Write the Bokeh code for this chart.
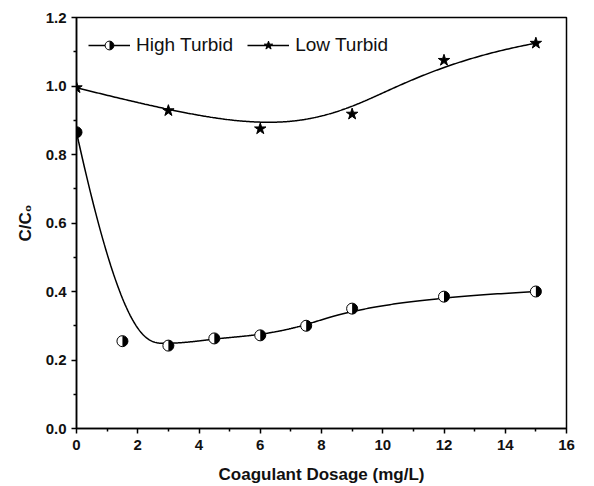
import numpy as np
from bokeh.plotting import figure
from bokeh.models import (Range1d, FixedTicker, PrintfTickFormatter,
                          Legend, LegendItem, CustomJS)
from bokeh.embed import file_html
from bokeh.resources import INLINE

# ---- data ----
high_x = [0, 1.5, 3, 4.5, 6, 7.5, 9, 12, 15]
high_y = [0.865, 0.255, 0.242, 0.263, 0.272, 0.300, 0.350, 0.385, 0.400]
low_x = [0, 3, 6, 9, 12, 15]
low_y = [0.995, 0.928, 0.875, 0.918, 1.075, 1.125]
x_ticks = [0, 2, 4, 6, 8, 10, 12, 14, 16]
x_minor = [1, 3, 5, 7, 9, 11, 13, 15]
y_ticks = [0.0, 0.2, 0.4, 0.6, 0.8, 1.0, 1.2]
y_minor = [0.1, 0.3, 0.5, 0.7, 0.9, 1.1]
x_label = "Coagulant Dosage (mg/L)"
y_label = "C/C\u2080"
names = ["High Turbid", "Low Turbid"]


def bspline(xs, ys, n=400, k=3):
    P = np.column_stack([xs, ys]).astype(float)
    m = len(P)
    knots = np.concatenate([[0.0] * k, np.linspace(0, 1, m - k + 1), [1.0] * k])
    t = np.linspace(0, 1, n)
    t[-1] = 1 - 1e-12
    N = np.zeros((n, len(knots) - 1))
    for j in range(len(knots) - 1):
        N[:, j] = (t >= knots[j]) & (t < knots[j + 1])
    for d in range(1, k + 1):
        Nn = np.zeros((n, len(knots) - 1 - d))
        for j in range(len(knots) - 1 - d):
            a = knots[j + d] - knots[j]
            b = knots[j + d + 1] - knots[j + 1]
            term = 0
            if a > 0:
                term = term + (t - knots[j]) / a * N[:, j]
            if b > 0:
                term = term + (knots[j + d + 1] - t) / b * N[:, j + 1]
            Nn[:, j] = term
        N = Nn
    C = N @ P
    return C[:, 0], C[:, 1]


hx, hy = bspline(high_x, high_y)
lx, ly = bspline(low_x, low_y)

p = figure(width=594, height=486, output_backend="svg", toolbar_location=None,
           x_range=Range1d(0, 16), y_range=Range1d(0, 1.2),
           min_border_left=76, min_border_right=28, min_border_top=17,
           min_border_bottom=58)
p.background_fill_color = "white"
p.border_fill_color = "white"
p.grid.visible = False
p.outline_line_color = "black"
p.outline_line_width = 1.5

half = CustomJS(code='''
export default (args, obj, {ctx, i, r, visuals}) => {
  ctx.beginPath()
  ctx.arc(0, 0, r, 0, 2*Math.PI, false)
  ctx.fillStyle = "white"
  ctx.fill()
  ctx.beginPath()
  ctx.moveTo(0, -r)
  ctx.arc(0, 0, r, -Math.PI/2, Math.PI/2, false)
  ctx.closePath()
  ctx.fillStyle = "black"
  ctx.fill()
  ctx.beginPath()
  ctx.arc(0, 0, r, 0, 2*Math.PI, false)
  ctx.strokeStyle = "black"
  ctx.lineWidth = 1
  ctx.stroke()
}
''')

lh = p.line(hx, hy, line_color="black", line_width=1.5)
sh = p.scatter(high_x, high_y, marker="@half", defs={"@half": half}, size=11,
               line_color="black", fill_color="white")
ll = p.line(lx, ly, line_color="black", line_width=1.5)
sl = p.scatter(low_x, low_y, marker="star", size=12, line_color="black",
               fill_color="black")

legend = Legend(items=[LegendItem(label=names[0], renderers=[lh, sh]),
                       LegendItem(label=names[1], renderers=[ll, sl])],
                orientation="horizontal", location=(12, 372),
                border_line_color=None, background_fill_alpha=0,
                padding=4, margin=0, spacing=14, glyph_width=42,
                glyph_height=22, label_standoff=6,
                label_text_font="Liberation Sans", label_text_font_size="19px",
                label_text_color="#111111")
p.add_layout(legend, "center")

for ax in (p.xaxis[0], p.yaxis[0]):
    ax.axis_line_width = 1.5
    ax.axis_line_color = "black"
    ax.major_tick_line_width = 1.5
    ax.minor_tick_line_width = 1.5
    ax.major_tick_in = 0
    ax.major_tick_out = 5
    ax.minor_tick_in = 0
    ax.minor_tick_out = 3
    ax.major_label_text_font = "Liberation Sans"
    ax.major_label_text_font_style = "bold"
    ax.major_label_text_font_size = "15px"
    ax.major_label_text_color = "#111111"
    ax.axis_label_text_font = "Liberation Sans"
    ax.axis_label_text_font_style = "bold"
    ax.axis_label_text_font_size = "17px"
    ax.axis_label_text_color = "#111111"

p.xaxis.ticker = FixedTicker(ticks=x_ticks, minor_ticks=x_minor)
p.yaxis.ticker = FixedTicker(ticks=y_ticks, minor_ticks=y_minor)
p.yaxis.formatter = PrintfTickFormatter(format="%.1f")
p.xaxis.axis_label = x_label
p.yaxis.axis_label = y_label
p.xaxis.axis_label_standoff = 12
p.yaxis.axis_label_standoff = 8
p.xaxis.major_label_standoff = 6

open("out.html", "w").write(file_html(p, INLINE))
